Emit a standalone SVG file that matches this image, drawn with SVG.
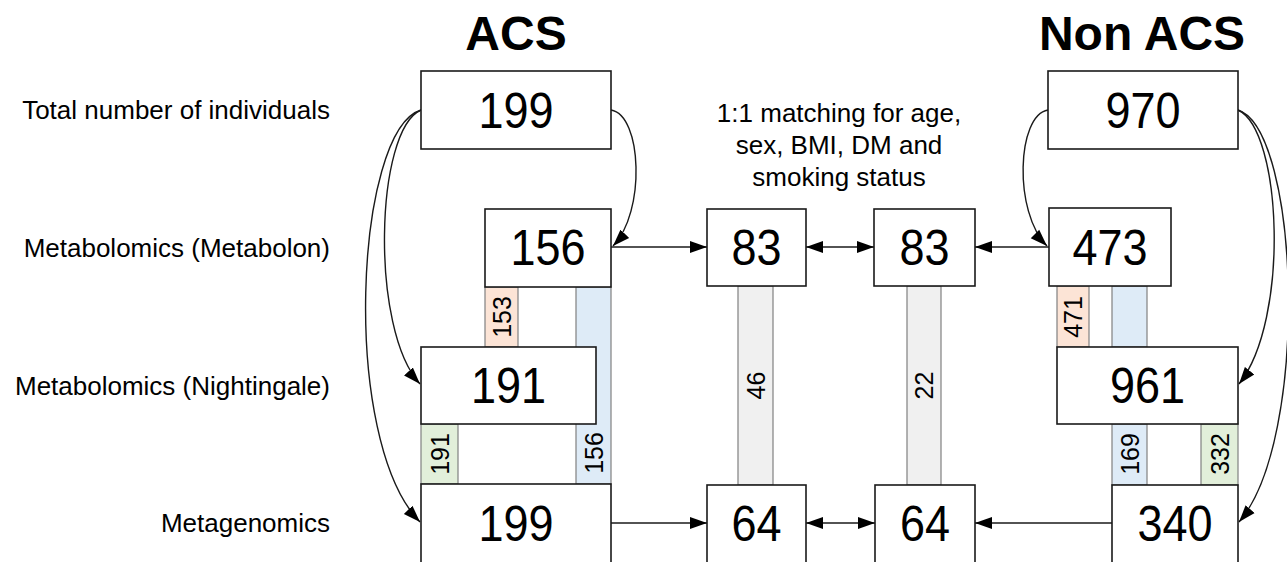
<svg xmlns="http://www.w3.org/2000/svg" width="1287" height="562" viewBox="0 0 1287 562">
  <style>
    text { font-family: "Liberation Sans", Arial, sans-serif; fill: #000; }
    .hdr { font-size: 48px; font-weight: bold; text-anchor: middle; }
    .row { font-size: 26px; text-anchor: end; }
    .note { font-size: 26px; text-anchor: middle; }
    .num { font-size: 50px; text-anchor: middle; }
    .slab { font-size: 25px; text-anchor: middle; dominant-baseline: central; }
    .box { fill: #fff; stroke: #1a1a1a; stroke-width: 1.6; }
    .strip { stroke: #808080; stroke-width: 1.2; }
    .orange { fill: #fce4d6; }
    .blue { fill: #deebf7; }
    .green { fill: #e2efda; }
    .gray { fill: #f0f0f0; }
    .link { fill: none; stroke: #1a1a1a; stroke-width: 1.4; }
  </style>
  <defs>
    <marker id="arr" markerUnits="userSpaceOnUse" markerWidth="18" markerHeight="14" viewBox="0 0 18 14" refX="17" refY="7" orient="auto-start-reverse">
      <path d="M0,1 L17,7 L0,13 Z" fill="#000"/>
    </marker>
  </defs>

  <!-- column headers -->
  <text class="hdr" x="516" y="50">ACS</text>
  <text class="hdr" x="1142" y="50">Non ACS</text>

  <!-- row labels -->
  <text class="row" x="330" y="119">Total number of individuals</text>
  <text class="row" x="330" y="257">Metabolomics (Metabolon)</text>
  <text class="row" x="330" y="395">Metabolomics (Nightingale)</text>
  <text class="row" x="330" y="532">Metagenomics</text>

  <!-- matching criteria -->
  <text class="note" x="839" y="122">1:1 matching for age,</text>
  <text class="note" x="839" y="154">sex, BMI, DM and</text>
  <text class="note" x="839" y="186">smoking status</text>

  <!-- overlap bars between data sets -->
  <g id="overlaps">
    <g id="acs-153"><rect class="strip orange" x="485" y="287" width="33" height="60"/><text class="slab" transform="translate(501.5,317) rotate(-90)">153</text></g>
    <g id="acs-156"><rect class="strip blue" x="576" y="287" width="35" height="197"/><text class="slab" transform="translate(593.5,453) rotate(-90)">156</text></g>
    <g id="acs-191"><rect class="strip green" x="421" y="424" width="37" height="60"/><text class="slab" transform="translate(439.5,454) rotate(-90)">191</text></g>
    <g id="match-46"><rect class="strip gray" x="738" y="286" width="35" height="199"/><text class="slab" transform="translate(755.5,385.5) rotate(-90)">46</text></g>
    <g id="match-22"><rect class="strip gray" x="907" y="286" width="34" height="199"/><text class="slab" transform="translate(924,385.5) rotate(-90)">22</text></g>
    <g id="non-471"><rect class="strip orange" x="1057" y="286" width="32" height="61"/><text class="slab" transform="translate(1073,317) rotate(-90)">471</text></g>
    <g id="non-blue"><rect class="strip blue" x="1112" y="286" width="35" height="61"/></g>
    <g id="non-169"><rect class="strip blue" x="1112" y="424" width="35" height="61"/><text class="slab" transform="translate(1129.5,454) rotate(-90)">169</text></g>
    <g id="non-332"><rect class="strip green" x="1201" y="424" width="37" height="61"/><text class="slab" transform="translate(1219.5,454) rotate(-90)">332</text></g>
  </g>

  <!-- connectors -->
  <g id="connectors">
    <path class="link" d="M611,110 C642,115 646,212 613,246" marker-end="url(#arr)"/>
    <path class="link" d="M421,110 C375,130 370,330 420,384" marker-end="url(#arr)"/>
    <path class="link" d="M421,110 C355,130 340,440 420,522" marker-end="url(#arr)"/>
    <path class="link" d="M1048,110 C1017,115 1013,212 1047,246" marker-end="url(#arr)"/>
    <path class="link" d="M1238,110 C1282,130 1290,320 1239,384" marker-end="url(#arr)"/>
    <path class="link" d="M1238,110 C1300,130 1310,440 1239,522" marker-end="url(#arr)"/>
    <path class="link" d="M611,247 H707" marker-end="url(#arr)"/>
    <path class="link" d="M806,247 H874" marker-start="url(#arr)" marker-end="url(#arr)"/>
    <path class="link" d="M1049,247 H975" marker-end="url(#arr)"/>
    <path class="link" d="M611,523 H707" marker-end="url(#arr)"/>
    <path class="link" d="M806,523 H875" marker-start="url(#arr)" marker-end="url(#arr)"/>
    <path class="link" d="M1112,523 H975" marker-end="url(#arr)"/>
  </g>

  <!-- ACS nodes -->
  <g id="acs-total"><rect class="box" x="421" y="71" width="190" height="78"/><text class="num" transform="translate(516,128) scale(0.9,1)">199</text></g>
  <g id="acs-metabolon"><rect class="box" x="485" y="209" width="126" height="78"/><text class="num" transform="translate(548,265) scale(0.9,1)">156</text></g>
  <g id="acs-nightingale"><rect class="box" x="421" y="347" width="175" height="77"/><text class="num" transform="translate(508.5,403) scale(0.9,1)">191</text></g>
  <g id="acs-metagenomics"><rect class="box" x="421" y="484" width="190" height="90"/><text class="num" transform="translate(516,541) scale(0.9,1)">199</text></g>

  <!-- matched nodes -->
  <g id="match-acs-metabolon"><rect class="box" x="707" y="209" width="99" height="77"/><text class="num" transform="translate(756.5,265) scale(0.9,1)">83</text></g>
  <g id="match-non-metabolon"><rect class="box" x="874" y="209" width="101" height="77"/><text class="num" transform="translate(924.5,265) scale(0.9,1)">83</text></g>
  <g id="match-acs-metagenomics"><rect class="box" x="707" y="485" width="99" height="90"/><text class="num" transform="translate(756.5,541) scale(0.9,1)">64</text></g>
  <g id="match-non-metagenomics"><rect class="box" x="875" y="485" width="100" height="90"/><text class="num" transform="translate(925,541) scale(0.9,1)">64</text></g>

  <!-- Non ACS nodes -->
  <g id="non-total"><rect class="box" x="1048" y="71" width="190" height="78"/><text class="num" transform="translate(1143,128) scale(0.9,1)">970</text></g>
  <g id="non-metabolon"><rect class="box" x="1049" y="208" width="122" height="78"/><text class="num" transform="translate(1110,265) scale(0.9,1)">473</text></g>
  <g id="non-nightingale"><rect class="box" x="1057" y="347" width="181" height="77"/><text class="num" transform="translate(1147.5,403) scale(0.9,1)">961</text></g>
  <g id="non-metagenomics"><rect class="box" x="1112" y="485" width="126" height="90"/><text class="num" transform="translate(1175,541) scale(0.9,1)">340</text></g>
</svg>
